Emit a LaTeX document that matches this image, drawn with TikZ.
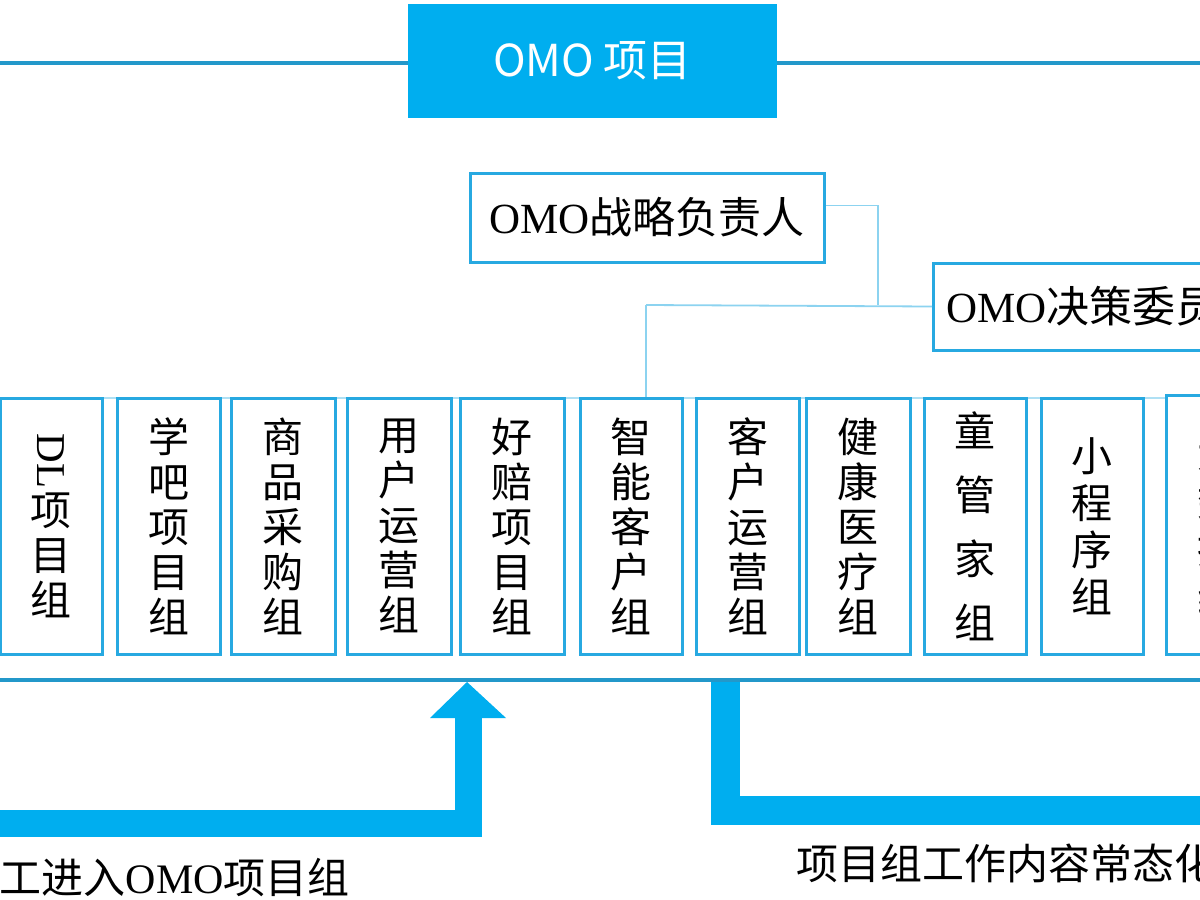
\documentclass[tikz,border=0pt]{standalone}
\usepackage{fontspec}
\setmainfont{Liberation Serif}
\newfontfamily\cjk{Noto Sans CJK SC}
\definecolor{omoblue}{HTML}{00AEEF}
\definecolor{edgeblue}{HTML}{27A9E1}
\definecolor{thinblue}{HTML}{8CD3F0}
\begin{document}
\begin{tikzpicture}[x=1pt,y=-1pt,
  grp/.style={draw=edgeblue, line width=3pt, fill=white, minimum height=256pt,
    inner sep=0pt, align=center, font=\cjk\fontsize{41}{45}\selectfont},
  hbox/.style={draw=edgeblue, line width=3pt, fill=white, inner sep=0pt,
    font=\fontsize{43}{48}\selectfont},
  thin/.style={draw=thinblue, line width=1.8pt},
  band/.style={draw=omoblue, line width=#1, miter limit=10},
  rule/.style={draw=edgeblue!90!black, line width=4pt},
  lbl/.style={font=\fontsize{42}{48}\selectfont, inner sep=0pt}
]
\useasboundingbox (0,0) rectangle (1200,900);
\clip (0,0) rectangle (1200,900);
\fill[white] (0,0) rectangle (1200,900);

% top rule and title
\coordinate (tl) at (-10,63);
\coordinate (tr) at (1210,63);
\draw[rule] (tl) -- (tr);
\node[fill=omoblue, minimum width=369pt, minimum height=114pt, inner sep=0pt,
  text=white, font=\cjk\fontsize{44}{50}\selectfont] (title) at (592.5,61) {OMO 项目};

% faint line over group tops
\coordinate (gl) at (-10,398);
\coordinate (gr) at (1210,398);
\draw[thin, draw=thinblue!70] (gl) -- (gr);

% strategy and committee boxes
\node[hbox, minimum width=354pt, minimum height=89pt] (zl) at (647,217.5) {OMO{\cjk 战略负责人}};
\node[hbox, anchor=west, minimum height=87pt, inner xsep=13pt] (jc) at (932,306.5) {OMO{\cjk 决策委员会}};

% groups
\node[grp, minimum width=102pt] (g1) at (51,526) {\rotatebox{-90}{\rmfamily DL}\\[4pt]项\\目\\组};
\node[grp, minimum width=103pt] (g2) at (168.5,526) {学\\吧\\项\\目\\组};
\node[grp, minimum width=104pt] (g3) at (283,526) {商\\品\\采\\购\\组};
\node[grp, minimum width=104pt] (g4) at (399,526) {用\\户\\运\\营\\组};
\node[grp, minimum width=104pt] (g5) at (512,526) {好\\赔\\项\\目\\组};
\node[grp, minimum width=102pt] (g6) at (631,526) {智\\能\\客\\户\\组};
\node[grp, minimum width=103pt] (g7) at (747.5,526) {客\\户\\运\\营\\组};
\node[grp, minimum width=104pt] (g8) at (858,526) {健\\康\\医\\疗\\组};
\node[grp, minimum width=102pt, font=\cjk\fontsize{41}{64}\selectfont] (g9) at (975,526) {童\\管\\家\\组};
\node[grp, minimum width=102pt, font=\cjk\fontsize{41}{47}\selectfont] (g10) at (1092,526) {小\\程\\序\\组};
\node[grp, minimum width=104pt, minimum height=259pt, font=\cjk\fontsize{41}{48}\selectfont] (g11) at (1218,524.5) {大\\数\\据\\组};

% connectors between strategy / committee / groups
\coordinate (j) at (878,305);
\coordinate (k) at (646,305);
\draw[thin] ([yshift=12pt]zl.east) -| (j);
\draw[thin] (jc.west) -- (k);
\draw[thin] (k) -- (k |- g6.north);

% bottom rule
\coordinate (bl) at (-10,680);
\coordinate (br) at (1210,680);
\draw[rule] (bl) -- (br);

% left band with arrow up to the bottom rule
\coordinate (la) at (-10,823.5);
\coordinate (lc) at (468,823.5);
\coordinate (lt) at (468,718);
\draw[band=27pt] (la) -- (lc) -- (lt);
\fill[omoblue] (430,718) -- (506,718) -- (467,682) -- cycle;

% right band
\coordinate (ra) at (725.5,682);
\coordinate (rc) at (725.5,810.5);
\coordinate (re) at (1210,810.5);
\draw[band=29pt] (ra) -- (rc) -- (re);

% labels
\node[lbl, anchor=east] (t1) at (350,878) {{\cjk 员工进入}OMO{\cjk 项目组}};
\node[lbl, anchor=west] (t2) at (796,863) {\cjk 项目组工作内容常态化};
\end{tikzpicture}
\end{document}
